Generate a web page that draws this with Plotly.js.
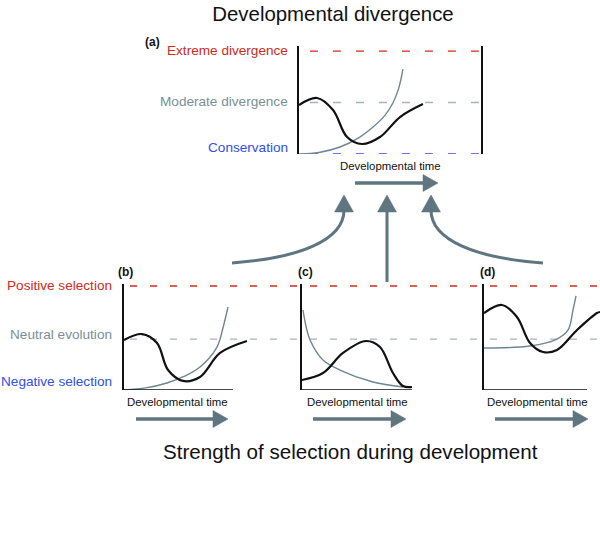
<!DOCTYPE html>
<html><head><meta charset="utf-8">
<script src="https://cdn.plot.ly/plotly-3.0.1.min.js"></script>
<style>html,body{margin:0;padding:0;background:#fff}</style>
</head><body><div id="chart" style="width:600px;height:534px"></div>
<script>
// ---- Data (normalised developmental time vs. divergence / selection level) ----
// Panel (a): developmental divergence
const aBlackT = [0, 0.099, 0.187, 0.264, 0.346, 0.445, 0.555, 0.681];
const aBlackY = [0.476, 0.544, 0.427, 0.165, 0.097, 0.165, 0.359, 0.485];
const aGreyT  = [0, 0.11, 0.225, 0.33, 0.407, 0.47, 0.516, 0.548, 0.571];
const aGreyY  = [0, 0.015, 0.068, 0.16, 0.262, 0.37, 0.495, 0.64, 0.825];
// Panel (b)
const bBlackT = [0, 0.165, 0.303, 0.404, 0.541, 0.697, 0.881, 1.128];
const bBlackY = [0.481, 0.538, 0.452, 0.192, 0.087, 0.125, 0.356, 0.471];
const bGreyT  = [0, 0.2, 0.394, 0.55, 0.697, 0.853, 0.91, 0.954];
const bGreyY  = [0, 0.02, 0.067, 0.13, 0.221, 0.413, 0.606, 0.798];
// Panel (c)
const cBlackT = [0, 0.191, 0.373, 0.582, 0.709, 0.827, 0.918, 1.0];
const cBlackY = [0.096, 0.163, 0.356, 0.471, 0.413, 0.163, 0.038, 0.029];
const cGreyT  = [0.009, 0.035, 0.073, 0.191, 0.345, 0.645, 0.918];
const cGreyY  = [0.769, 0.62, 0.481, 0.288, 0.192, 0.077, 0.029];
// Panel (d)
const dBlackT = [0, 0.175, 0.32, 0.447, 0.573, 0.709, 0.903, 1.097, 1.126];
const dBlackY = [0.740, 0.817, 0.702, 0.452, 0.365, 0.385, 0.577, 0.740, 0.75];
const dGreyT  = [0, 0.447, 0.709, 0.816, 0.864, 0.893];
const dGreyY  = [0.404, 0.423, 0.49, 0.577, 0.769, 0.904];

// Level labels
const topLevels = ['Extreme divergence', 'Moderate divergence', 'Conservation'];
const bottomLevels = ['Positive selection', 'Neutral evolution', 'Negative selection'];
const panelLabels = ['(a)', '(b)', '(c)', '(d)'];
const xLabel = 'Developmental time';

// ---- Styles ----
const FONT = 'Liberation Sans, Arial, Helvetica, sans-serif';
const RED = '#d02a20', GREYTXT = '#7b8e97', BLUE = '#3050e6';
const ARROW = '#5f7580', GREYLINE = '#6d8691', GREYDASH = '#a8b4b9';
const W = 600, H = 534;
const px = x => x / W, py = y => 1 - y / H;
const P = (x, y) => px(x) + ',' + py(y);

function curve(t, y, xa, ya, color, width) {
  return {x: t, y: y, xaxis: xa, yaxis: ya, type: 'scatter', mode: 'lines',
    line: {color: color, width: width, shape: 'spline', smoothing: 1}, hoverinfo: 'skip'};
}
const traces = [
  curve(aGreyT, aGreyY, 'x', 'y', GREYLINE, 1.4),
  curve(aBlackT, aBlackY, 'x', 'y', '#111', 2.2),
  curve(bGreyT, bGreyY, 'x2', 'y2', GREYLINE, 1.4),
  curve(bBlackT, bBlackY, 'x2', 'y2', '#111', 2.2),
  curve(cGreyT, cGreyY, 'x3', 'y3', GREYLINE, 1.4),
  curve(cBlackT, cBlackY, 'x3', 'y3', '#111', 2.2),
  curve(dGreyT, dGreyY, 'x4', 'y4', GREYLINE, 1.4),
  curve(dBlackT, dBlackY, 'x4', 'y4', '#111', 2.2)
];

function ax(domain, range, extra) {
  return Object.assign({domain: domain, range: range, showgrid: false, zeroline: false,
    showticklabels: false, ticks: '', fixedrange: true, showline: false}, extra || {});
}
const yLine = {showline: true, linecolor: '#111', linewidth: 1.6};

const shapes = [];
// reference dashed lines, panel (a)
shapes.push({type: 'line', xref: 'x', yref: 'y', x0: 0.06, x1: 1, y0: 1, y1: 1, line: {color: RED, width: 1.3, dash: '8px,15px'}, layer: 'below'});
shapes.push({type: 'line', xref: 'x', yref: 'y', x0: 0.06, x1: 1, y0: 0.5, y1: 0.5, line: {color: GREYDASH, width: 1.3, dash: '8px,15px'}, layer: 'below'});
shapes.push({type: 'line', xref: 'x', yref: 'y', x0: 0.06, x1: 1, y0: 0, y1: 0, line: {color: BLUE, width: 1.3, dash: '8px,15px'}, layer: 'below'});
// reference dashed lines, lower panels
shapes.push({type: 'line', xref: 'paper', yref: 'y2', x0: px(130), x1: 1, y0: 1, y1: 1, line: {color: RED, width: 1.3, dash: '7px,13px'}, layer: 'below'});
shapes.push({type: 'line', xref: 'paper', yref: 'y2', x0: px(130), x1: 1, y0: 0.49, y1: 0.49, line: {color: GREYDASH, width: 1.3, dash: '7px,13px'}, layer: 'below'});
// x axis lines of lower panels
[['x2', 'y2'], ['x3', 'y3'], ['x4', 'y4']].forEach(([xa, ya]) => {
  shapes.push({type: 'line', xref: xa, yref: ya, x0: 0, x1: 1, y0: 0, y1: 0, line: {color: '#111', width: 1.6}});
});
// horizontal "developmental time" arrows
function hArrow(x0, x1, y) {
  shapes.push({type: 'line', xref: 'paper', yref: 'paper', x0: px(x0), x1: px(x1 - 10), y0: py(y), y1: py(y), line: {color: ARROW, width: 3.5}});
  shapes.push({type: 'path', xref: 'paper', yref: 'paper', path: 'M' + P(x1 - 15, y - 8.5) + ' L' + P(x1, y) + ' L' + P(x1 - 15, y + 8.5) + ' Z', fillcolor: ARROW, line: {color: ARROW, width: 0.5}});
}
hArrow(355, 438, 183);
hArrow(136, 228, 419);
hArrow(313, 406, 419);
hArrow(495, 588, 419);
// upward arrows from lower panels to (a)
function head(x, tipY, baseY) {
  shapes.push({type: 'path', xref: 'paper', yref: 'paper', path: 'M' + P(x - 9.5, baseY) + ' L' + P(x, tipY) + ' L' + P(x + 9.5, baseY) + ' Z', fillcolor: ARROW, line: {color: ARROW, width: 0.5}});
}
shapes.push({type: 'path', xref: 'paper', yref: 'paper', path: 'M' + P(232, 263) + ' C' + P(300, 258) + ' ' + P(344, 240) + ' ' + P(344, 210), line: {color: ARROW, width: 3}});
shapes.push({type: 'path', xref: 'paper', yref: 'paper', path: 'M' + P(387, 282) + ' L' + P(387, 210), line: {color: ARROW, width: 3}});
shapes.push({type: 'path', xref: 'paper', yref: 'paper', path: 'M' + P(543, 263) + ' C' + P(475, 258) + ' ' + P(431, 240) + ' ' + P(431, 210), line: {color: ARROW, width: 3}});
head(344, 195, 212);
head(387, 195, 212);
head(431, 195, 212);

function txt(text, x, y, color, size, anchor, bold) {
  return {text: bold ? '<b>' + text + '</b>' : text, xref: 'paper', yref: 'paper', x: px(x), y: py(y),
    xanchor: anchor, yanchor: 'middle', showarrow: false, font: {family: FONT, size: size, color: color}};
}
const annotations = [
  txt(topLevels[0], 290, 50, RED, 13.6, 'right'),
  txt(topLevels[1], 290, 101, GREYTXT, 13.6, 'right'),
  txt(topLevels[2], 290, 147, BLUE, 13.6, 'right'),
  txt(bottomLevels[0], 114, 285, RED, 13.6, 'right'),
  txt(bottomLevels[1], 114, 334, GREYTXT, 13.6, 'right'),
  txt(bottomLevels[2], 114, 381, BLUE, 13.6, 'right'),
  txt(panelLabels[0], 143, 42, '#111', 12, 'left', true),
  txt(panelLabels[1], 116, 272, '#111', 12, 'left', true),
  txt(panelLabels[2], 296, 272, '#111', 12, 'left', true),
  txt(panelLabels[3], 478, 272, '#111', 12, 'left', true),
  txt(xLabel, 391, 166, '#111', 11.4, 'center'),
  txt(xLabel, 177, 402, '#111', 11.4, 'center'),
  txt(xLabel, 357, 402, '#111', 11.4, 'center'),
  txt(xLabel, 537, 402, '#111', 11.4, 'center'),
  txt('Strength of selection during development', 350, 451, '#111', 20.6, 'center')
];

const layout = {
  width: W, height: H, margin: {l: 0, r: 0, t: 0, b: 0},
  paper_bgcolor: '#fff', plot_bgcolor: 'rgba(0,0,0,0)', showlegend: false,
  title: {text: 'Developmental divergence', x: px(333), xref: 'paper', y: py(14), yref: 'container',
    xanchor: 'center', yanchor: 'middle', font: {family: FONT, size: 20.4, color: '#111'}},
  xaxis: ax([px(299), px(481)], [0, 1], {anchor: 'y'}),
  yaxis: ax([py(154), py(46)], [0, 1.049], Object.assign({mirror: true, anchor: 'x'}, yLine)),
  xaxis2: ax([px(124), px(250)], [0, 1.156], {anchor: 'y2'}),
  yaxis2: ax([py(390), py(284)], [0, 1.019], Object.assign({anchor: 'x2'}, yLine)),
  xaxis3: ax([px(302), px(420)], [0, 1.073], {anchor: 'y3'}),
  yaxis3: ax([py(390), py(284)], [0, 1.019], Object.assign({anchor: 'x3'}, yLine)),
  xaxis4: ax([px(484), px(600)], [0, 1.126], {anchor: 'y4'}),
  yaxis4: ax([py(390), py(284)], [0, 1.019], Object.assign({anchor: 'x4'}, yLine)),
  shapes: shapes, annotations: annotations
};
Plotly.newPlot('chart', traces, layout, {displayModeBar: false, staticPlot: true});
</script></body></html>
